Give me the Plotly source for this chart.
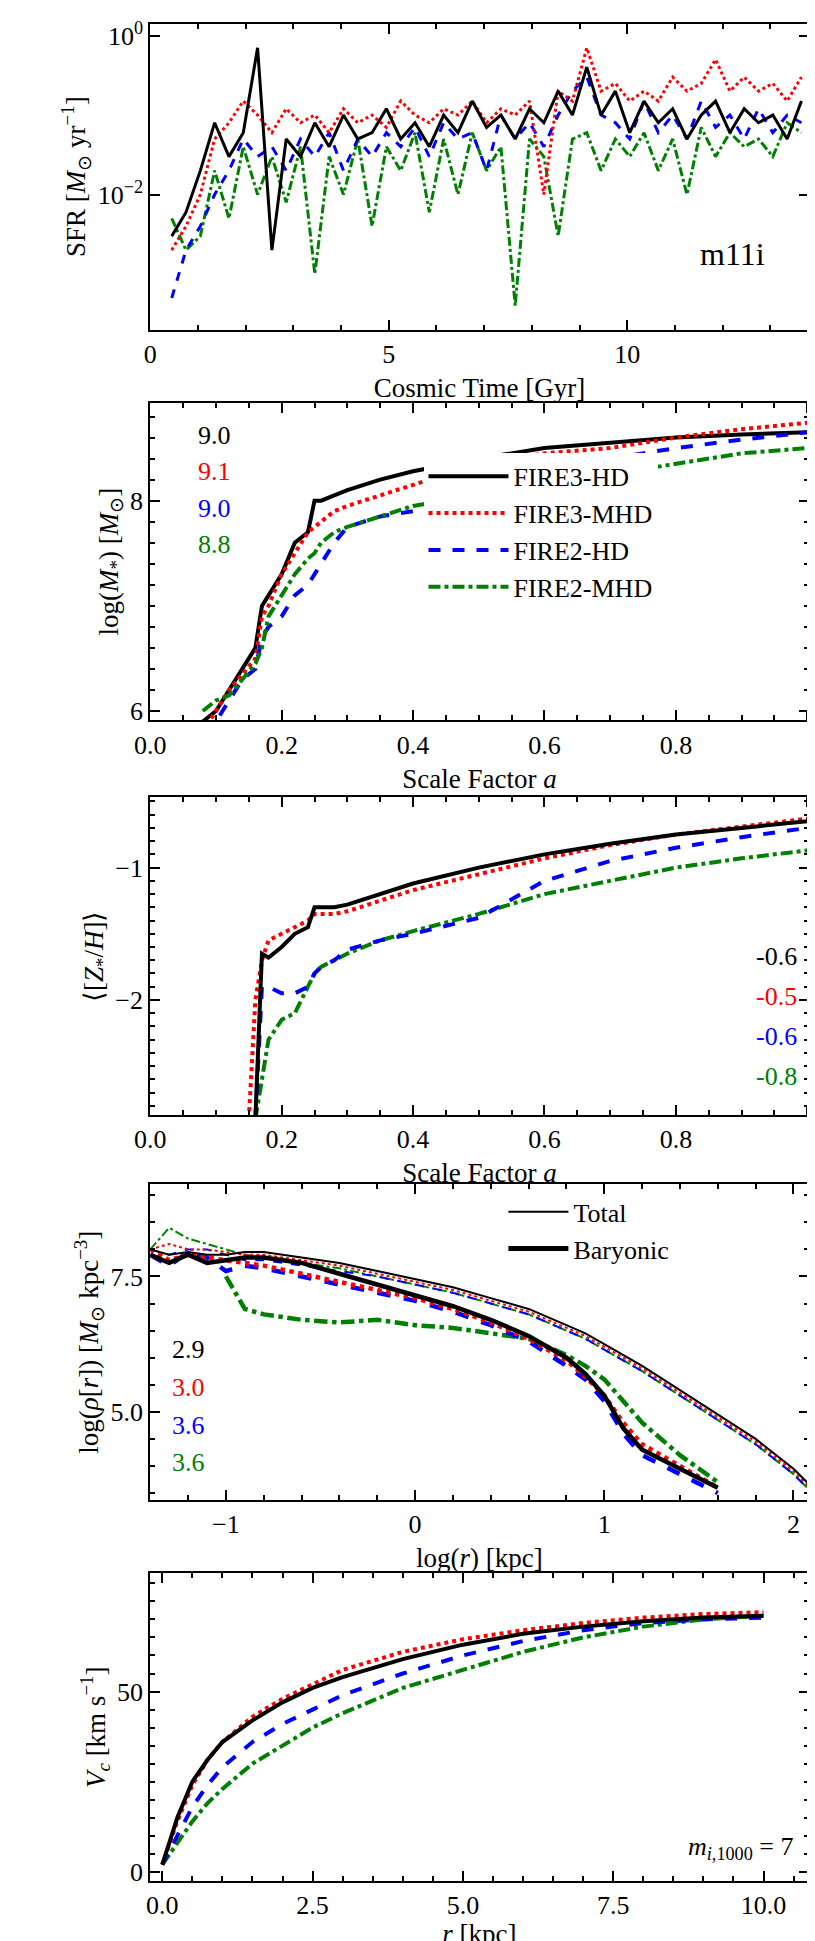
import plotly.graph_objects as go
from plotly.subplots import make_subplots

BLACK, RED, BLUE, GREEN = "black", "red", "blue", "green"
names = ["FIRE3-HD", "FIRE3-MHD", "FIRE2-HD", "FIRE2-MHD"]
colors = [BLACK, RED, BLUE, GREEN]
dashes = ["solid", "dot", "dash", "dashdot"]

# Panel 1: SFR vs cosmic time
t_gyr = [0.45,0.75,1.05,1.35,1.65,1.95,2.25,2.55,2.85,3.15,3.45,3.75,4.05,4.35,4.65,4.95,5.25,5.55,5.85,6.15,6.45,6.75,7.05,7.35,7.65,7.95,8.25,8.55,8.85,9.15,9.45,9.75,10.05,10.35,10.65,10.95,11.25,11.55,11.85,12.15,12.45,12.75,13.05,13.35,13.65]
sfr_f3hd = [0.003,0.006,0.02,0.08,0.03,0.06,0.7,0.002,0.05,0.03,0.08,0.04,0.1,0.05,0.06,0.12,0.05,0.08,0.04,0.1,0.06,0.15,0.07,0.1,0.05,0.12,0.08,0.2,0.1,0.4,0.1,0.2,0.06,0.15,0.08,0.12,0.05,0.1,0.15,0.06,0.12,0.08,0.1,0.05,0.15]
sfr_f3mhd = [0.002,0.004,0.01,0.05,0.08,0.15,0.1,0.06,0.12,0.08,0.1,0.06,0.12,0.08,0.1,0.07,0.15,0.1,0.08,0.12,0.1,0.15,0.08,0.12,0.1,0.15,0.01,0.2,0.15,0.7,0.2,0.25,0.15,0.2,0.15,0.3,0.2,0.25,0.5,0.2,0.3,0.2,0.25,0.15,0.3]
sfr_f2hd = [0.0005,0.002,0.004,0.01,0.02,0.05,0.03,0.04,0.02,0.05,0.03,0.06,0.02,0.05,0.03,0.06,0.04,0.07,0.03,0.08,0.05,0.06,0.02,0.1,0.05,0.08,0.04,0.1,0.2,0.3,0.1,0.08,0.05,0.15,0.06,0.1,0.05,0.15,0.07,0.1,0.05,0.12,0.06,0.1,0.08]
sfr_f2mhd = [0.005,0.002,0.003,0.02,0.005,0.04,0.01,0.03,0.008,0.04,0.001,0.03,0.01,0.05,0.004,0.04,0.02,0.06,0.006,0.05,0.01,0.06,0.02,0.04,0.0004,0.05,0.03,0.003,0.05,0.06,0.02,0.05,0.03,0.06,0.02,0.05,0.01,0.07,0.03,0.06,0.04,0.05,0.03,0.08,0.06]

# Panel 2: stellar mass vs scale factor
a_mass = [0.08,0.1,0.12,0.14,0.16,0.17,0.18,0.2,0.22,0.24,0.25,0.26,0.28,0.3,0.35,0.4,0.5,0.6,0.7,0.8,0.9,1.0]
mstar_f3hd = [5.9,6.0,6.2,6.4,6.6,7.0,7.1,7.3,7.6,7.7,8.0,8.0,8.05,8.1,8.2,8.28,8.4,8.5,8.55,8.6,8.63,8.65]
mstar_f3mhd = [5.8,6.0,6.2,6.35,6.5,6.9,7.0,7.3,7.5,7.7,7.75,7.8,7.9,7.95,8.05,8.15,8.35,8.45,8.5,8.6,8.68,8.74]
mstar_f2hd = [5.8,5.9,6.1,6.3,6.4,6.7,6.8,6.9,7.1,7.2,7.3,7.4,7.6,7.75,7.85,7.9,8.05,8.2,8.4,8.5,8.58,8.65]
mstar_f2mhd = [6.0,6.1,6.15,6.3,6.45,6.6,6.9,7.1,7.3,7.45,7.5,7.6,7.7,7.75,7.85,7.95,8.05,8.15,8.25,8.35,8.45,8.5]
mstar_labels = ["9.0", "9.1", "9.0", "8.8"]

# Panel 3: metallicity vs scale factor
a_met = [0.15,0.16,0.17,0.18,0.2,0.22,0.24,0.25,0.26,0.28,0.3,0.35,0.4,0.5,0.6,0.7,0.8,0.9,1.0]
zh_f3hd = [None,-2.9,-1.65,-1.68,-1.6,-1.5,-1.45,-1.3,-1.3,-1.3,-1.28,-1.2,-1.12,-1.0,-0.9,-0.82,-0.75,-0.7,-0.65]
zh_f3mhd = [-2.9,-2.0,-1.7,-1.55,-1.5,-1.45,-1.4,-1.35,-1.35,-1.35,-1.33,-1.25,-1.17,-1.05,-0.93,-0.83,-0.75,-0.69,-0.63]
zh_f2hd = [None,-2.9,-1.9,-1.9,-1.95,-1.95,-1.9,-1.8,-1.75,-1.7,-1.62,-1.55,-1.5,-1.38,-1.1,-0.95,-0.85,-0.77,-0.7]
zh_f2mhd = [None,-2.9,-2.6,-2.3,-2.15,-2.1,-1.9,-1.8,-1.75,-1.7,-1.65,-1.55,-1.48,-1.35,-1.2,-1.1,-1.0,-0.93,-0.87]
zh_labels = ["-0.6", "-0.5", "-0.6", "-0.8"]

# Panel 4: density profiles
logr = [-1.4,-1.3,-1.2,-1.1,-1.0,-0.9,-0.8,-0.6,-0.4,-0.2,0,0.2,0.4,0.6,0.8,0.9,1.0,1.1,1.2,1.4,1.6,1.8,2.0,2.1]
tot_f3hd = [8.0,7.9,7.95,7.9,7.9,7.95,7.95,7.85,7.75,7.6,7.45,7.3,7.1,6.9,6.6,6.45,6.25,6.05,5.85,5.4,4.95,4.5,3.95,3.6]
tot_f3mhd = [8.0,8.1,8.0,8.0,7.95,7.9,7.9,7.8,7.7,7.55,7.4,7.25,7.05,6.85,6.55,6.4,6.2,6.0,5.8,5.35,4.9,4.45,3.9,3.55]
tot_f2hd = [8.0,7.9,8.0,8.0,7.9,7.8,7.8,7.7,7.6,7.5,7.35,7.2,7.0,6.8,6.5,6.35,6.15,5.95,5.75,5.3,4.85,4.4,3.85,3.5]
tot_f2mhd = [8.0,8.4,8.2,8.1,8.0,7.9,7.85,7.75,7.65,7.5,7.35,7.2,7.0,6.8,6.5,6.35,6.15,5.95,5.75,5.3,4.85,4.4,3.85,3.5]
bar_f3hd = [7.9,7.75,7.9,7.75,7.8,7.85,7.85,7.75,7.55,7.35,7.15,6.95,6.7,6.4,6.0,5.7,5.3,4.7,4.3,3.95,3.6,None,None,None]
bar_f3mhd = [8.0,7.8,7.9,7.85,7.8,7.75,7.7,7.55,7.4,7.25,7.1,6.9,6.65,6.35,5.95,5.65,5.3,4.8,4.4,4.0,3.6,None,None,None]
bar_f2hd = [7.9,7.7,7.95,7.85,7.6,7.7,7.65,7.5,7.35,7.2,7.05,6.85,6.6,6.3,5.85,5.6,5.2,4.6,4.2,3.85,3.5,None,None,None]
bar_f2mhd = [None,None,None,None,7.5,6.9,6.8,6.7,6.65,6.7,6.6,6.55,6.45,6.35,6.05,5.85,5.6,5.2,4.8,4.2,3.7,None,None,None]
rho_labels = ["2.9", "3.0", "3.6", "3.6"]

# Panel 5: circular velocity
r_kpc = [0,0.25,0.5,0.75,1,1.5,2,2.5,3,4,5,6,7,8,9,10]
vc_f3hd = [2,15,25,31,36,42,47,51,54,59,63,66,68,69.5,70.5,71]
vc_f3mhd = [2,14,24,31,36,43,48,52,56,61,64.5,67,69,70.5,71.5,72]
vc_f2hd = [2,10,18,24,29,36,41,45,49,55,60,64,67,69,70,70.5]
vc_f2mhd = [2,8,14,19,23,30,35,40,44,51,56,61,65,68,70,71]

FONT = "Liberation Serif"
fig = make_subplots(rows=5, cols=1)

def add(row, x, y, i, width=4, legend=None, show=False):
    fig.add_trace(go.Scatter(x=x, y=y, mode="lines", name=names[i],
                             line=dict(color=colors[i], dash=dashes[i], width=width),
                             showlegend=show, legend=legend, connectgaps=False), row=row, col=1)

sfrs = [sfr_f3hd, sfr_f3mhd, sfr_f2hd, sfr_f2mhd]
ms = [mstar_f3hd, mstar_f3mhd, mstar_f2hd, mstar_f2mhd]
zs = [zh_f3hd, zh_f3mhd, zh_f2hd, zh_f2mhd]
tots = [tot_f3hd, tot_f3mhd, tot_f2hd, tot_f2mhd]
bars = [bar_f3hd, bar_f3mhd, bar_f2hd, bar_f2mhd]
vcs = [vc_f3hd, vc_f3mhd, vc_f2hd, vc_f2mhd]
order = [3, 2, 1, 0]
for i in order:
    add(1, t_gyr, sfrs[i], i, width=3)
for i in range(4):
    add(2, a_mass, ms[i], i, show=True, legend="legend")
for i in order:
    add(3, a_met, zs[i], i)
for i in order:
    add(4, logr, tots[i], i, width=2)
    add(4, logr, bars[i], i, width=4.5)
for i in order:
    add(5, r_kpc, vcs[i], i)
fig.add_trace(go.Scatter(x=[None], y=[None], mode="lines", name="Total", line=dict(color="black", width=2), legend="legend2"), row=4, col=1)
fig.add_trace(go.Scatter(x=[None], y=[None], mode="lines", name="Baryonic", line=dict(color="black", width=5), legend="legend2"), row=4, col=1)

doms = [[0.836, 0.995], [0.633, 0.798], [0.428, 0.593], [0.228, 0.392], [0.03, 0.19]]
axstyle = dict(showline=True, mirror="allticks", linecolor="black", linewidth=2, ticks="inside",
               ticklen=10, tickwidth=1.5, tickcolor="black", showgrid=False, zeroline=False,
               tickfont=dict(size=26, family=FONT, color="black"),
               minor=dict(ticks="inside", ticklen=5, tickcolor="black"))
xcfg = [
    dict(range=[0, 13.8], tickvals=[0, 5, 10], title="Cosmic Time [Gyr]"),
    dict(range=[0, 1.002], tickvals=[0, 0.2, 0.4, 0.6, 0.8, 1.0], tickformat=".1f", title="Scale Factor <i>a</i>"),
    dict(range=[0, 1.002], tickvals=[0, 0.2, 0.4, 0.6, 0.8, 1.0], tickformat=".1f", title="Scale Factor <i>a</i>"),
    dict(range=[-1.4, 2.08], tickvals=[-1, 0, 1, 2], ticktext=["−1", "0", "1", "2"], title="log(<i>r</i>) [kpc]"),
    dict(range=[-0.2, 10.75], tickvals=[0, 2.5, 5, 7.5, 10], tickformat=".1f", title="<i>r</i> [kpc]"),
]
ycfg = [
    dict(type="log", range=[-3.7, 0.15], tickvals=[0.01, 1], ticktext=["10<sup>−2</sup>", "10<sup>0</sup>"],
         title="SFR [<i>M</i><sub>⊙</sub> yr<sup>−1</sup>]"),
    dict(range=[5.91, 8.93], tickvals=[6, 8], title="log(<i>M</i><sub>*</sub>) [<i>M</i><sub>⊙</sub>]"),
    dict(range=[-2.87, -0.47], tickvals=[-2, -1], ticktext=["−2", "−1"], title="⟨[<i>Z</i><sub>*</sub>/<i>H</i>]⟩"),
    dict(range=[3.37, 9.2], tickvals=[5.0, 7.5], tickformat=".1f", title="log(<i>ρ</i>[<i>r</i>]) [<i>M</i><sub>⊙</sub> kpc<sup>−3</sup>]"),
    dict(range=[-2.6, 82.8], tickvals=[0, 50], title="<i>V<sub>c</sub></i> [km s<sup>−1</sup>]"),
]
for k in range(5):
    xs = "xaxis" if k == 0 else f"xaxis{k+1}"
    ys = "yaxis" if k == 0 else f"yaxis{k+1}"
    xc = dict(axstyle); xc.update(xcfg[k]); xc["domain"] = [0.158, 0.982]
    xc["title"] = dict(text=xcfg[k]["title"], font=dict(size=27, family=FONT), standoff=10)
    yc = dict(axstyle); yc.update(ycfg[k]); yc["domain"] = doms[k]
    yc["title"] = dict(text=ycfg[k]["title"], font=dict(size=27, family=FONT), standoff=4)
    if k == 0:
        yc["minor"] = dict(ticks="")
    fig.layout[xs].update(xc)
    fig.layout[ys].update(yc)

anns = []
anns.append(dict(xref="x", yref="y", x=12.2, y=-2.75, text="m11i", showarrow=False, font=dict(size=32, family=FONT, color="black")))
for i in range(4):
    anns.append(dict(xref="x2 domain", yref="y2 domain", x=0.07, y=0.95 - i*0.115, xanchor="left", yanchor="top",
                     text=mstar_labels[i], showarrow=False, font=dict(size=26, family=FONT, color=colors[i])))
    anns.append(dict(xref="x3 domain", yref="y3 domain", x=0.985, y=0.55 - i*0.125, xanchor="right", yanchor="top",
                     text=zh_labels[i], showarrow=False, font=dict(size=26, family=FONT, color=colors[i])))
    anns.append(dict(xref="x4 domain", yref="y4 domain", x=0.03, y=0.53 - i*0.12, xanchor="left", yanchor="top",
                     text=rho_labels[i], showarrow=False, font=dict(size=26, family=FONT, color=colors[i])))
anns.append(dict(xref="x5 domain", yref="y5 domain", x=0.98, y=0.05, xanchor="right", yanchor="bottom",
                 text="<i>m</i><sub><i>i</i>,1000</sub> = 7", showarrow=False, font=dict(size=26, family=FONT, color="black")))

fig.update_layout(
    width=815, height=1941, margin=dict(l=0, r=0, t=0, b=0),
    plot_bgcolor="white", paper_bgcolor="white",
    font=dict(family=FONT, color="black"),
    annotations=anns,
    legend=dict(x=0.5, y=0.772, xanchor="left", yanchor="top", bgcolor="white",
                font=dict(size=26, family=FONT), itemwidth=80, tracegroupgap=0),
    legend2=dict(x=0.6, y=0.39, xanchor="left", yanchor="top", bgcolor="rgba(0,0,0,0)",
                 font=dict(size=26, family=FONT), itemwidth=60),
)
fig.write_html("out.html")
